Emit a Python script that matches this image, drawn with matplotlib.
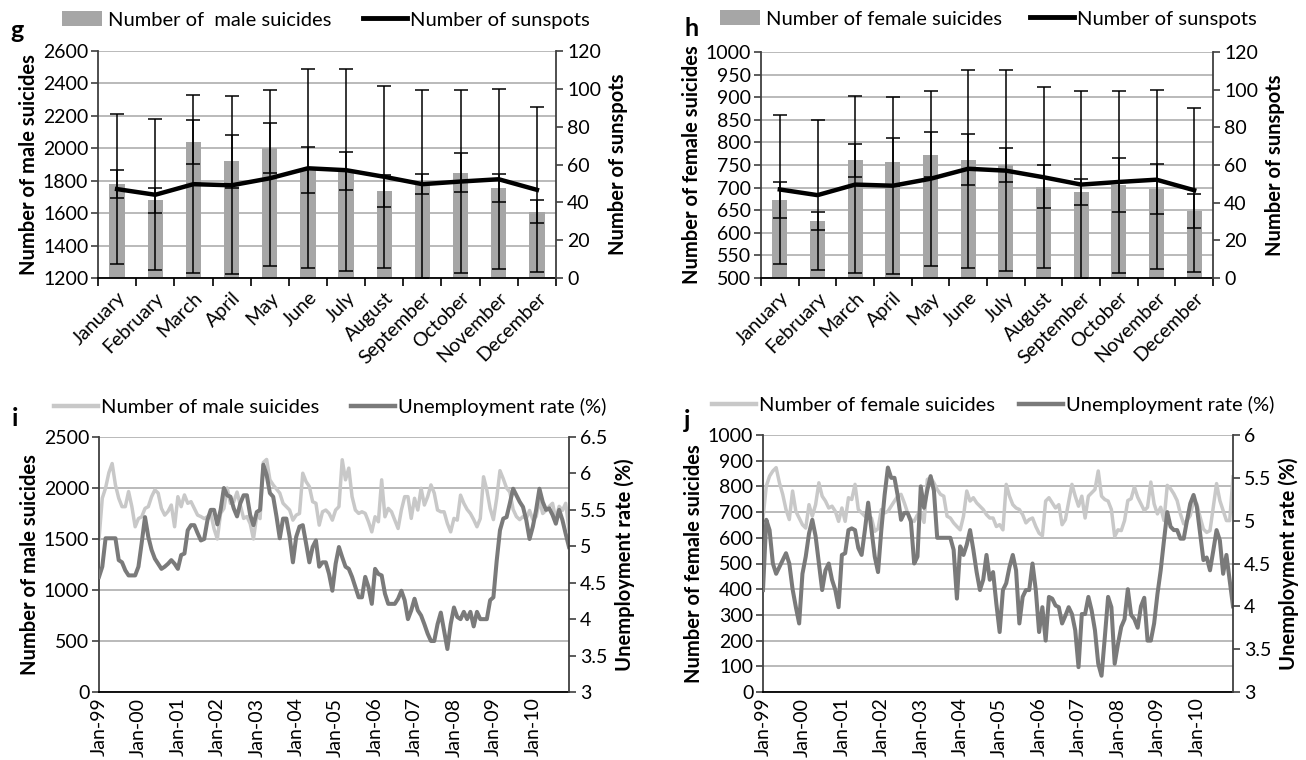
import matplotlib
matplotlib.use('Agg')
import matplotlib.pyplot as plt
import numpy as np
from matplotlib.ticker import MultipleLocator, FuncFormatter
from matplotlib.patches import Patch
from matplotlib.lines import Line2D

plt.rcParams['font.family'] = ['Lato', 'DejaVu Sans']

# ---- monthly means (panels g, h) ----
months = ['January', 'February', 'March', 'April', 'May', 'June', 'July',
          'August', 'September', 'October', 'November', 'December']
male_mean = [1780, 1680, 2040, 1920, 2000, 1865, 1858, 1735, 1778, 1850, 1755, 1610]
male_sd = [85, 78, 137, 165, 155, 140, 118, 100, 63, 122, 85, 72]
female_mean = [672, 626, 760, 757, 773, 762, 750, 702, 690, 706, 697, 648]
female_sd = [40, 20, 37, 53, 49, 57, 38, 47, 28, 59, 55, 37]
sunspot_mean = [47, 44, 49.6, 49, 52.7, 58, 57, 53.5, 49.6, 51, 52.2, 46.6]
sunspot_sd = [39.5, 40, 47, 47, 46.5, 52.5, 53.5, 48, 49.6, 48.5, 47.5, 43.6]

# ---- monthly series Jan-1999 .. Dec-2010 (panels i, j) ----
year_labels = ['Jan-99', 'Jan-00', 'Jan-01', 'Jan-02', 'Jan-03', 'Jan-04',
               'Jan-05', 'Jan-06', 'Jan-07', 'Jan-08', 'Jan-09', 'Jan-10']
male_suicides = [
    1500, 1900, 2000, 2150, 2240, 2030, 1900, 1817, 1817, 1965, 1817, 1620,
    1700, 1718, 1800, 1817, 1915, 1981, 1950, 1800, 1734, 1770, 1833, 1620,
    1915, 1817, 1932, 1850, 1866, 1800, 1734, 1720, 1700, 1718, 1751, 1600,
    1500, 1751, 1800, 2000, 1850, 1866, 1960, 1830, 1702, 1720, 1650, 1500,
    1734, 1700, 2250, 2280, 2080, 2030, 1990, 1950, 1850, 1817, 1784, 1685,
    1734, 1750, 2145, 2063, 2014, 1866, 1850, 1636, 1767, 1784, 1751, 1685,
    1784, 1817, 2277, 2080, 2195, 1915, 1784, 1751, 1767, 1751, 1669, 1570,
    1718, 1669, 2080, 1718, 1800, 1767, 1685, 1603, 1784, 1915, 1915, 1702,
    1899, 1784, 1997, 1833, 1915, 2030, 1950, 1784, 1767, 1767, 1652, 1570,
    1702, 1685, 1930, 1850, 1790, 1750, 1690, 1620, 1700, 2110, 1980, 1800,
    1690, 1900, 2170, 2090, 2000, 1960, 1790, 1720, 1690, 1720, 1700, 1780,
    1690, 1720, 1880, 1750, 1780, 1820, 1850, 1690, 1820, 1780, 1850, 1590]
male_unemp = [
    4.58, 4.72, 5.11, 5.11, 5.11, 5.11, 4.81, 4.78, 4.67, 4.6, 4.6, 4.6,
    4.72, 5.05, 5.4, 5.13, 4.95, 4.83, 4.76, 4.69, 4.72, 4.76, 4.81, 4.76,
    4.69, 4.88, 4.9, 5.22, 5.29, 5.29, 5.18, 5.08, 5.1, 5.36, 5.5, 5.5,
    5.3, 5.5, 5.8, 5.7, 5.68, 5.52, 5.41, 5.59, 5.7, 5.7, 5.43, 5.29,
    5.47, 5.5, 6.12, 5.98, 5.73, 5.68, 5.41, 5.11, 5.38, 5.38, 5.13, 4.78,
    5.13, 5.27, 5.29, 5.04, 4.78, 4.99, 5.08, 4.72, 4.78, 4.78, 4.62, 4.39,
    4.76, 4.99, 4.85, 4.72, 4.69, 4.58, 4.44, 4.3, 4.3, 4.58, 4.44, 4.21,
    4.69, 4.62, 4.6, 4.35, 4.21, 4.21, 4.21, 4.28, 4.39, 4.26, 4.0, 4.12,
    4.28, 4.12, 4.05, 3.93, 3.8, 3.7, 3.7, 3.93, 4.09, 3.84, 3.59, 3.93,
    4.16, 4.03, 4.0, 4.1, 4.0, 4.1, 3.9, 4.1, 4.0, 4.0, 4.0, 4.26,
    4.3, 4.8, 5.22, 5.38, 5.4, 5.59, 5.79, 5.7, 5.61, 5.54, 5.36, 5.1,
    5.27, 5.5, 5.79, 5.61, 5.5, 5.52, 5.43, 5.31, 5.5, 5.36, 5.17, 4.99]
female_suicides = [
    677, 801, 840, 860, 873, 814, 769, 710, 671, 782, 703, 677,
    651, 638, 729, 684, 729, 814, 762, 743, 716, 723, 703, 664,
    716, 664, 756, 749, 808, 710, 697, 684, 677, 677, 625, 635,
    710, 697, 703, 723, 743, 762, 769, 736, 697, 671, 664, 690,
    697, 660, 827, 834, 814, 788, 769, 762, 684, 677, 658, 644,
    631, 684, 782, 743, 756, 736, 723, 710, 690, 677, 677, 644,
    651, 631, 808, 762, 729, 716, 710, 690, 658, 671, 677, 644,
    618, 608, 743, 756, 736, 716, 729, 651, 671, 740, 808, 762,
    723, 762, 677, 762, 775, 788, 860, 762, 749, 743, 710, 605,
    631, 628, 667, 745, 752, 798, 758, 732, 706, 719, 817, 732,
    693, 719, 667, 804, 791, 771, 745, 693, 654, 667, 687, 745,
    732, 680, 634, 621, 628, 719, 811, 745, 706, 667, 667, 837]
female_unemp = [
    4.19, 5.01, 4.89, 4.5, 4.38, 4.46, 4.54, 4.62, 4.5, 4.2, 3.99, 3.8,
    4.38, 4.58, 4.85, 5.01, 4.82, 4.5, 4.19, 4.42, 4.5, 4.31, 4.19, 3.99,
    4.6, 4.62, 4.89, 4.91, 4.89, 4.68, 4.6, 4.89, 5.21, 4.89, 4.58, 4.4,
    4.89, 5.3, 5.62, 5.5, 5.5, 5.29, 5.01, 5.09, 5.09, 4.99, 4.5, 4.58,
    5.4, 5.15, 5.36, 5.52, 5.35, 4.8, 4.8, 4.8, 4.8, 4.8, 4.66, 4.09,
    4.7, 4.6, 4.72, 4.89, 4.66, 4.4, 4.19, 4.31, 4.6, 4.31, 4.4, 4.03,
    3.7, 4.19, 4.27, 4.46, 4.6, 4.42, 3.8, 4.11, 4.19, 4.19, 4.5, 4.19,
    3.7, 3.99, 3.6, 4.11, 4.09, 4.01, 3.99, 3.8, 3.89, 3.99, 3.91, 3.72,
    3.29, 3.91, 3.91, 4.11, 3.95, 3.72, 3.33, 3.19, 3.64, 4.11, 3.99, 3.33,
    3.56, 3.76, 3.85, 4.2, 3.9, 3.85, 3.75, 4.0, 4.1, 3.6, 3.6, 3.8,
    4.14, 4.42, 4.77, 5.1, 4.93, 4.89, 4.89, 4.79, 4.79, 5.0, 5.2, 5.3,
    5.16, 4.85, 4.54, 4.57, 4.42, 4.65, 4.89, 4.77, 4.38, 4.6, 4.3, 4.0]

BAR = '#a6a6a6'
GRID = '#b4b4b4'
LIGHT = '#c8c8c8'
DARK = '#7a7a7a'
AXC = '#404040'
FS = 14       # tick labels
LFS = 14.5    # legend text
AFS = 14.5    # axis titles

W, H = 1306, 760
fig = plt.figure(figsize=(W / 100, H / 100), dpi=100)


def rect(l, r, t, b):
    return [l / W, 1 - b / H, (r - l) / W, (b - t) / H]


def style_axes(ax, ax2):
    ax.spines['top'].set_visible(False)
    ax.spines['right'].set_visible(False)
    ax.spines['left'].set_color(AXC)
    ax.spines['bottom'].set_color('black')
    ax.spines['left'].set_linewidth(1.3)
    ax.spines['bottom'].set_linewidth(1.3)
    for s in ['top', 'left', 'bottom']:
        ax2.spines[s].set_visible(False)
    ax2.spines['right'].set_color(AXC)
    ax2.spines['right'].set_linewidth(1.3)
    ax.grid(axis='y', color=GRID, lw=1.3)
    ax.set_axisbelow(True)
    ax.tick_params(axis='y', length=5, width=1.2, color=AXC, labelsize=FS, pad=2)
    ax2.tick_params(axis='y', length=5, width=1.2, color=AXC, labelsize=FS, pad=3)
    fmt = FuncFormatter(lambda v, p: '%g' % v)
    ax.yaxis.set_major_formatter(fmt)
    ax2.yaxis.set_major_formatter(fmt)


def bar_panel(box, means, sds, ylim, step, ylabel, leg_label, letter, letter_xy, leg_pos):
    ax = fig.add_axes(rect(*box))
    x = np.arange(len(months))
    ax.bar(x, means, width=0.4, color=BAR, zorder=2)
    ax.errorbar(x, means, yerr=sds, fmt='none', ecolor='black', elinewidth=1.1,
                capsize=5, capthick=1.1, zorder=3)
    ax.set_xlim(-0.5, 11.5)
    ax.set_ylim(*ylim)
    ax.yaxis.set_major_locator(MultipleLocator(step))
    ax2 = ax.twinx()
    ax2.plot(x, sunspot_mean, color='black', lw=3.2, zorder=3)
    ax2.errorbar(x, sunspot_mean, yerr=sunspot_sd, fmt='none', ecolor='black',
                 elinewidth=1.1, capsize=5, capthick=1.1, zorder=3)
    ax2.set_ylim(0, 120)
    ax2.yaxis.set_major_locator(MultipleLocator(20))
    style_axes(ax, ax2)
    ax.set_xticks(x)
    ax.set_xticklabels(months, rotation=45, ha='right', va='top',
                       rotation_mode='anchor', fontsize=FS)
    ax.set_xticks(np.arange(-0.5, 12, 1), minor=True)
    ax.tick_params(axis='x', which='major', length=0, pad=8)
    ax.tick_params(axis='x', which='minor', length=6, width=1.2, color='black')
    ax.set_ylabel(ylabel, fontsize=AFS, fontweight='bold', labelpad=3)
    ax2.set_ylabel('Number of sunspots', fontsize=AFS, fontweight='bold', labelpad=5)
    fig.text(letter_xy[0] / W, 1 - letter_xy[1] / H, letter, fontsize=18,
             fontweight='bold', ha='center', va='center')
    h1 = Patch(facecolor=BAR, edgecolor='none')
    h2 = Line2D([], [], color='black', lw=3.5)
    fig.legend([h1], [leg_label], loc='center left', frameon=False, fontsize=LFS,
               bbox_to_anchor=(leg_pos[0] / W, 1 - leg_pos[2] / H),
               borderpad=0, borderaxespad=0, handlelength=2.0, handletextpad=0.3)
    fig.legend([h2], ['Number of sunspots'], loc='center left', frameon=False,
               fontsize=LFS, bbox_to_anchor=(leg_pos[1] / W, 1 - leg_pos[2] / H),
               borderpad=0, borderaxespad=0, handlelength=2.2, handletextpad=0.15)


def line_panel(box, suic, unemp, ylim, step, ylim2, step2, ylabel, leg_label,
               letter, letter_xy, leg_pos):
    ax = fig.add_axes(rect(*box))
    t = np.arange(len(suic))
    ax.plot(t, suic, color=LIGHT, lw=2.5)
    ax.set_xlim(0, len(suic) - 1)
    ax.set_ylim(*ylim)
    ax.yaxis.set_major_locator(MultipleLocator(step))
    ax2 = ax.twinx()
    ax2.plot(t, unemp, color=DARK, lw=2.9)
    ax2.set_ylim(*ylim2)
    ax2.yaxis.set_major_locator(MultipleLocator(step2))
    style_axes(ax, ax2)
    ax.set_xticks(np.arange(0, len(suic), 12))
    ax.set_xticklabels(year_labels, rotation=90, fontsize=FS)
    ax.tick_params(axis='x', length=0, pad=4)
    ax.set_ylabel(ylabel, fontsize=AFS, fontweight='bold', labelpad=3)
    ax2.set_ylabel('Unemployment rate (%)', fontsize=AFS, fontweight='bold', labelpad=5)
    fig.text(letter_xy[0] / W, 1 - letter_xy[1] / H, letter, fontsize=18,
             fontweight='bold', ha='center', va='center')
    h1 = Line2D([], [], color=LIGHT, lw=3.2)
    h2 = Line2D([], [], color=DARK, lw=3.2)
    fig.legend([h1], [leg_label], loc='center left', frameon=False, fontsize=LFS,
               bbox_to_anchor=(leg_pos[0] / W, 1 - leg_pos[2] / H),
               borderpad=0, borderaxespad=0, handlelength=2.2, handletextpad=0.15)
    fig.legend([h2], ['Unemployment rate (%)'], loc='center left', frameon=False,
               fontsize=LFS, bbox_to_anchor=(leg_pos[1] / W, 1 - leg_pos[2] / H),
               borderpad=0, borderaxespad=0, handlelength=2.2, handletextpad=0.15)


bar_panel((98, 556, 51, 278), male_mean, male_sd, (1200, 2600), 200,
          'Number of male suicides', 'Number of  male suicides', 'g', (17, 30),
          (62, 363, 20))
bar_panel((761, 1213, 52, 278), female_mean, female_sd, (500, 1000), 50,
          'Number of female suicides', 'Number of female suicides', 'h', (692, 28),
          (720, 1030, 19))
line_panel((99, 569, 437, 692), male_suicides, male_unemp, (0, 2500), 500,
           (3, 6.5), 0.5, 'Number of male suicides', 'Number of male suicides',
           'i', (15, 418), (54, 351, 407))
line_panel((763, 1233, 435, 692), female_suicides, female_unemp, (0, 1000), 100,
           (3, 6), 0.5, 'Number of female suicides', 'Number of female suicides',
           'j', (687, 420), (712, 1019, 405))

fig.savefig('out.png', dpi=100)
